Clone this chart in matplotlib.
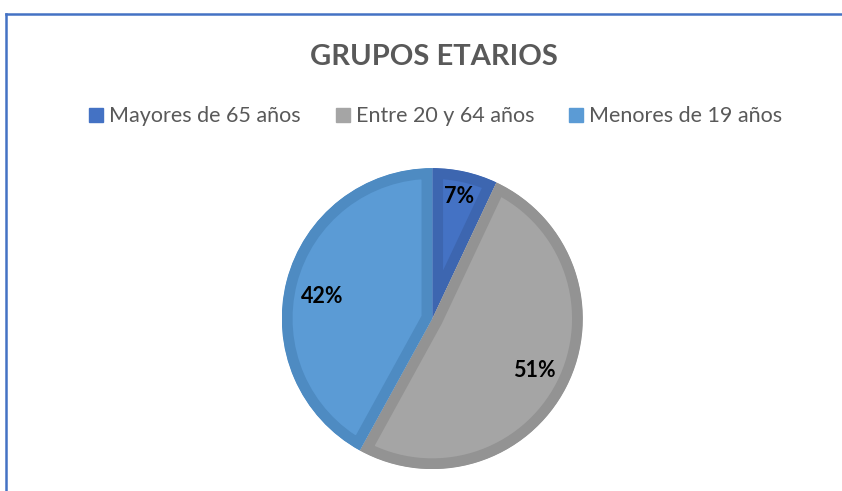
import numpy as np
import matplotlib.pyplot as plt
from matplotlib.lines import Line2D

plt.rcParams['font.family'] = ['Lato', 'DejaVu Sans']

# Data
title = 'GRUPOS ETARIOS'
categories = ['Mayores de 65 años', 'Entre 20 y 64 años', 'Menores de 19 años']
shares = [7, 51, 42]

fill_colors = ['#4472C4', '#A5A5A5', '#5B9BD5']
edge_colors = ['#3D66B0', '#939393', '#4E8BC2']
text_grey = '#595959'

W, H = 842, 491
fig = plt.figure(figsize=(W / 100, H / 100), dpi=100)
fig.patch.set_facecolor('white')

# chart frame (top and left edge visible)
frame_c = '#4472C4'
fig.add_artist(Line2D([5.5 / W, 1.0], [1 - 13.5 / H, 1 - 13.5 / H], color=frame_c, lw=1.8,
                      transform=fig.transFigure))
fig.add_artist(Line2D([5.5 / W, 5.5 / W], [0, 1 - 13.5 / H], color=frame_c, lw=1.8,
                      transform=fig.transFigure))

fig.text(433.5 / W, 1 - 57 / H, title, ha='center', va='center', fontsize=21,
         fontweight='bold', color=text_grey)

# pie
cx, cy, r = 432.3, 318.6, 150.5
ax = fig.add_axes([(cx - r) / W, (H - cy - r) / H, 2 * r / W, 2 * r / H])
wedges, _ = ax.pie(shares, colors=fill_colors, startangle=90, counterclock=False,
                   wedgeprops=dict(linewidth=15.5))
ax.set_xlim(-1, 1)
ax.set_ylim(-1, 1)
ax.set_aspect('equal')
ax.axis('off')
# border drawn only inside each slice (Excel style)
for w, ec in zip(wedges, edge_colors):
    w.set_edgecolor(ec)
    w.set_clip_on(True)
    w.set_clip_path(w.get_path(), w.get_transform())

# percentage labels
label_dist = [0.83, 0.76, 0.75]
for w, v, d in zip(wedges, shares, label_dist):
    ang = np.deg2rad((w.theta1 + w.theta2) / 2)
    if v == 42:
        ang = np.deg2rad(168.5)
    ax.text(d * np.cos(ang), d * np.sin(ang), f'{v}%', ha='center', va='center',
            fontsize=15.5, fontweight='bold', color='black')

# legend
handles = [Line2D([], [], marker='s', linestyle='', markersize=9.6, color=c) for c in fill_colors]
fig.legend(handles, categories, loc='center', bbox_to_anchor=(436 / W, 1 - 116.5 / H), ncol=3,
           frameon=False, fontsize=15.5, labelcolor=text_grey, handlelength=0.6,
           handletextpad=0.3, columnspacing=1.65)

fig.savefig('out.png', dpi=100, facecolor='white')
